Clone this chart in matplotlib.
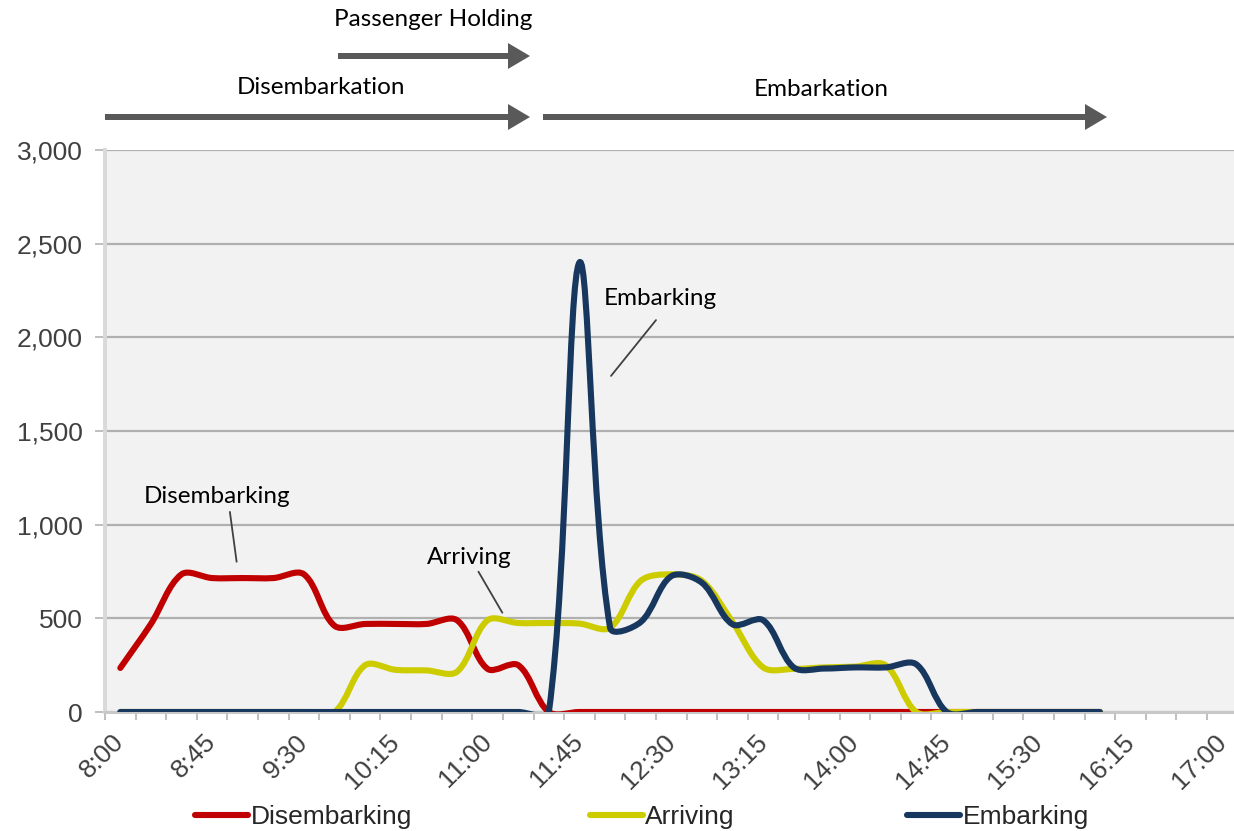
import matplotlib
matplotlib.use("Agg")
import matplotlib.pyplot as plt
import numpy as np
from matplotlib.path import Path
from matplotlib.patches import PathPatch, FancyArrow
from matplotlib.lines import Line2D

# passengers per 15-minute slot, first slot 8:00, last slot 16:00
disembarking = [235, 470, 735, 715, 715, 715, 735, 460, 470, 470, 470, 490, 230,
                250, 0, 0, 0, 0, 0, 0, 0, 0, 0, 0, 0, 0, 0, 0, 0, 0, 0, 0, 0]
arriving = [0, 0, 0, 0, 0, 0, 0, 0, 250, 225, 222, 215, 490, 475, 475, 472, 450,
            700, 735, 700, 480, 238, 230, 238, 242, 250, 0, 0, 0, 0, 0, 0, 0]
embarking = [0, 0, 0, 0, 0, 0, 0, 0, 0, 0, 0, 0, 0, 0, 0, 2400, 450, 480, 725,
             690, 468, 490, 238, 232, 238, 238, 255, 0, 0, 0, 0, 0, 0]

n_slots = 37  # 8:00 .. 17:00 on the category axis
time_labels = ["8:00", "8:45", "9:30", "10:15", "11:00", "11:45", "12:30",
               "13:15", "14:00", "14:45", "15:30", "16:15", "17:00"]
label_step = 3
y_ticks = [0, 500, 1000, 1500, 2000, 2500, 3000]

series = [("Disembarking", disembarking, "#C00000"),
          ("Arriving", arriving, "#CCCC00"),
          ("Embarking", embarking, "#17375E")]

W, H = 1234, 831
fig = plt.figure(figsize=(W / 100, H / 100), dpi=100)
fig.patch.set_facecolor("white")

# plot area runs slightly past the right edge of the canvas
ax = fig.add_axes([105 / W, (H - 712) / H, 1132.6 / W, 562 / H])
ax.set_facecolor("#F2F2F2")
ax.set_xlim(0, n_slots)
ax.set_ylim(0, 3000)
ax.set_axisbelow(True)


def smooth_path(ax, xs, ys):
    # Bezier smoothing in screen space, control arms scaled by chord length
    pts = ax.transData.transform(np.column_stack([xs, ys]))
    n = len(pts)
    verts = [pts[0]]
    codes = [Path.MOVETO]
    for i in range(n - 1):
        p0 = pts[max(i - 1, 0)]
        p1 = pts[i]
        p2 = pts[i + 1]
        p3 = pts[min(i + 2, n - 1)]
        d01 = np.hypot(*(p1 - p0))
        d12 = np.hypot(*(p2 - p1))
        d23 = np.hypot(*(p3 - p2))
        f1 = d12 / (3 * (d01 + d12)) if d01 + d12 > 0 else 0
        f2 = d12 / (3 * (d12 + d23)) if d12 + d23 > 0 else 0
        verts += [p1 + (p2 - p0) * f1, p2 - (p3 - p1) * f2, p2]
        codes += [Path.CURVE4] * 3
    verts = ax.transData.inverted().transform(np.array(verts))
    return Path(verts, codes)


for name, vals, color in series:
    xs = np.arange(len(vals)) + 0.5
    patch = PathPatch(smooth_path(ax, xs, vals), fill=False, edgecolor=color,
                      lw=4.4, capstyle="round", joinstyle="round", zorder=3)
    ax.add_patch(patch)

# axes styling
ax.grid(axis="y", color="#B0B0B0", lw=1.6)
ax.grid(axis="x", visible=False)
for side in ["top", "right"]:
    ax.spines[side].set_visible(False)
ax.spines["left"].set_color("#D9D9D9")
ax.spines["left"].set_linewidth(2.8)
ax.spines["bottom"].set_color("#C8C8C8")
ax.spines["bottom"].set_linewidth(2.2)

ax.set_yticks(y_ticks)
ax.set_yticklabels([f"{v:,}" for v in y_ticks])
ax.tick_params(axis="y", length=7, width=1.4, color="#BFBFBF", pad=9,
               labelsize=19, labelcolor="#404040")
for lab in ax.get_yticklabels():
    lab.set_fontfamily("Liberation Sans")

ax.set_xticks(np.arange(0, n_slots + 1), minor=True)
ax.set_xticks(np.arange(0, n_slots, label_step) + 0.5)
ax.set_xticklabels(time_labels, rotation=45, ha="right", va="center",
                   rotation_mode="anchor", fontfamily="Liberation Sans")
ax.tick_params(axis="x", which="major", length=0, pad=19, labelsize=19,
               labelcolor="#404040")
ax.tick_params(axis="x", which="minor", length=6, width=1.4, color="#BFBFBF")

# callouts
callout_font = dict(fontfamily="Lato", fontsize=17.5, color="black",
                    ha="center", va="center")
callouts = [("Disembarking", (3.66, 1148), (4.08, 1068), (4.30, 802)),
            ("Arriving", (11.89, 827), (12.20, 749), (12.98, 530)),
            ("Embarking", (18.13, 2205), (18.0, 2092), (16.53, 1794))]
for text, pos, start, end in callouts:
    ax.text(*pos, text, zorder=5, **callout_font)
    ax.annotate("", xy=end, xytext=start, zorder=5,
                arrowprops=dict(arrowstyle="-", color="#404040", lw=1.3,
                                shrinkA=0, shrinkB=0))

# phase arrows above the plot, drawn in pixel units
top = fig.add_axes([0, 0, 1, 1], zorder=-1)
top.set_xlim(0, W)
top.set_ylim(H, 0)
top.axis("off")
top.patch.set_alpha(0)
phases = [("Passenger Holding", 338, 530, 56, 433, 20),
          ("Disembarkation", 105, 530, 117, 321, 88),
          ("Embarkation", 543, 1107, 117, 821, 90)]
for label, x0, x1, y, tx, ty in phases:
    top.add_patch(FancyArrow(x0, y, x1 - x0, 0, width=6, head_width=26,
                             head_length=22, length_includes_head=True,
                             color="#595959", lw=0))
    top.text(tx, ty, label, **callout_font)

# legend entries spread along the bottom
legend_x = [195, 590, 907]
for (name, vals, color), lx in zip(series, legend_x):
    h = Line2D([], [], color=color, lw=4.4, solid_capstyle="round")
    leg = fig.legend([h], [name], loc="center left",
                     bbox_to_anchor=(lx / W, (H - 817) / H), frameon=False,
                     handlelength=2.0, handletextpad=0.1, borderpad=0,
                     borderaxespad=0,
                     prop=dict(family="Liberation Sans", size=19))
    for t in leg.get_texts():
        t.set_color("#262626")

fig.savefig("out.png", dpi=100, facecolor="white")
